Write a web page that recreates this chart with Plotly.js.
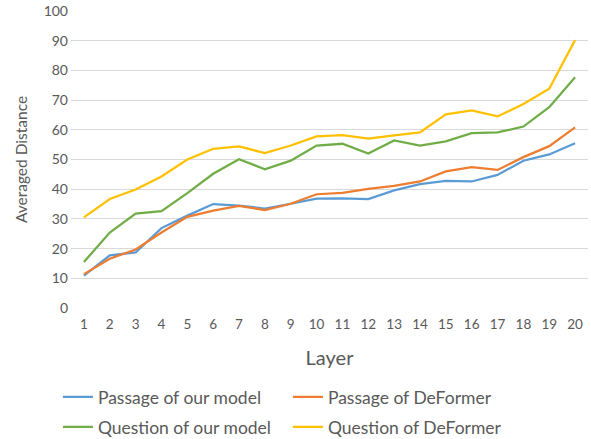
<!DOCTYPE html>
<html>
<head>
<meta charset="utf-8">
<script src="https://cdn.plot.ly/plotly-3.0.1.min.js"></script>
<style>html,body{margin:0;padding:0;background:#fff;}#chart{width:591px;height:439px;}</style>
</head>
<body>
<div id="chart"></div>
<script>
const layers = [1,2,3,4,5,6,7,8,9,10,11,12,13,14,15,16,17,18,19,20];
const passageOurs = [10.9,17.7,18.7,26.9,31.1,35.0,34.5,33.5,35.1,36.8,36.9,36.7,39.6,41.7,42.8,42.6,44.8,49.6,51.7,55.5];
const passageDeFormer = [11.4,16.6,19.7,25.4,30.7,32.8,34.4,33.0,35.1,38.3,38.8,40.1,41.1,42.6,46.0,47.4,46.5,50.8,54.5,60.8];
const questionOurs = [15.5,25.4,31.8,32.6,38.7,45.2,50.1,46.7,49.6,54.7,55.3,52.0,56.4,54.7,56.1,58.9,59.1,61.1,67.6,77.7];
const questionDeFormer = [30.5,36.7,39.9,44.3,50.0,53.6,54.4,52.2,54.7,57.8,58.2,57.0,58.1,59.1,65.2,66.5,64.5,68.7,73.8,90.2];
const seriesNames = ["Passage of our model","Passage of DeFormer","Question of our model","Question of DeFormer"];
const yTicks = [0,10,20,30,40,50,60,70,80,90,100];

const colors = ["#5B9BD5","#ED7D31","#70AD47","#FFC000"];
const legendIds = ["legend","legend","legend2","legend2"];
const data = [passageOurs, passageDeFormer, questionOurs, questionDeFormer].map((ys,i)=>({
  x: layers, y: ys, type: "scatter", mode: "lines", name: seriesNames[i],
  legend: legendIds[i],
  line: {color: colors[i], width: 2.25}
}));

const font = "Lato, 'Open Sans', sans-serif";
const legendBase = {
  orientation: "h", xref: "container", yref: "container",
  x: 0.098, xanchor: "left", yanchor: "middle",
  entrywidth: 185, entrywidthmode: "pixels",
  font: {size: 17.5, color: "#595959", family: font},
  traceorder: "normal", bgcolor: "rgba(0,0,0,0)"
};
const layout = {
  width: 591, height: 439,
  margin: {l: 71, r: 3, t: 11, b: 131},
  paper_bgcolor: "#fff", plot_bgcolor: "#fff",
  font: {family: font, color: "#595959"},
  showlegend: true,
  xaxis: {
    range: [0.5, 20.5], tickmode: "array", tickvals: layers, ticktext: layers.map(String),
    showgrid: false, zeroline: false, showline: false, ticks: "",
    ticklabelstandoff: 6,
    tickfont: {size: 13.5, color: "#595959"},
    title: {text: "Layer", font: {size: 20, color: "#595959"}, standoff: 20}
  },
  yaxis: {
    range: [0, 100], tickmode: "array", tickvals: yTicks,
    showgrid: true, gridcolor: "#D9D9D9", gridwidth: 1, zeroline: false, showline: false, ticks: "",
    ticklabelstandoff: 2,
    tickfont: {size: 14, color: "#595959"},
    title: {text: "Averaged Distance", font: {size: 15.5, color: "#595959"}, standoff: 12}
  },
  legend: Object.assign({}, legendBase, {y: 1 - 397/439}),
  legend2: Object.assign({}, legendBase, {y: 1 - 427/439})
};
Plotly.newPlot("chart", data, layout, {displayModeBar: false, staticPlot: true});
</script>
</body>
</html>
